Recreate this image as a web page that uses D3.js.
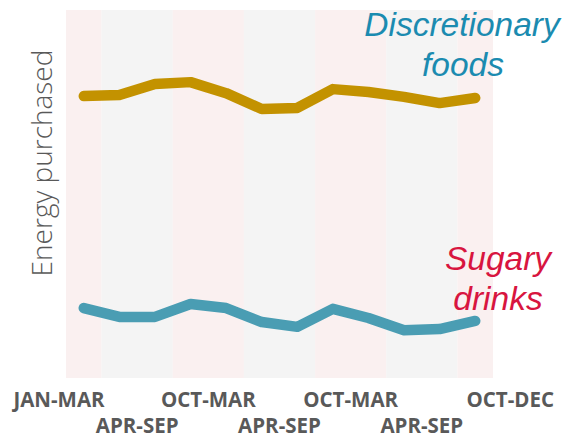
<!DOCTYPE html>
<html>
<head>
<meta charset="utf-8">
<script src="https://cdn.jsdelivr.net/npm/d3@7"></script>
<style>
  html, body { margin: 0; padding: 0; background: #fff; }
</style>
</head>
<body>
<div class="canvas"></div>
<script>
// quarters along the x axis (12 quarters, 3 years)
const quarters = ["Y1 Q1", "Y1 Q2", "Y1 Q3", "Y1 Q4",
                  "Y2 Q1", "Y2 Q2", "Y2 Q3", "Y2 Q4",
                  "Y3 Q1", "Y3 Q2", "Y3 Q3", "Y3 Q4"];

// energy purchased (relative units)
const discretionaryFoods = [76.6, 76.9, 79.9, 80.4, 77.4, 73.1, 73.4, 78.5, 77.7, 76.4, 74.7, 76.1];
const sugaryDrinks = [19.0, 16.6, 16.6, 20.1, 19.0, 15.2, 13.9, 18.8, 16.3, 13.0, 13.3, 15.5];

// periods shown as shaded bands + tick labels
const periodLabels = ["JAN-MAR", "APR-SEP", "OCT-MAR", "APR-SEP", "OCT-MAR", "APR-SEP", "OCT-DEC"];
const periodQuarters = [1, 2, 2, 2, 2, 2, 1];

const w = 568;
const h = 439;
const margin = { top: 10, right: 75, bottom: 61, left: 66 };
const graphWidth = w - margin.left - margin.right;
const graphHeight = h - margin.top - margin.bottom;

// build the periods with their first quarter index
let start = 0;
const periods = periodLabels.map((label, i) => {
  const p = { label, start, span: periodQuarters[i], i };
  start += periodQuarters[i];
  return p;
});

const svg = d3.select(".canvas")
  .append("svg")
  .attr("width", w)
  .attr("height", h);

const graph = svg.append("g")
  .attr("transform", `translate(${margin.left}, ${margin.top})`);

// x scale over quarters
const x = d3.scaleBand()
  .domain(quarters)
  .range([0, graphWidth])
  .padding(0);

// y scale (no numbers on the axis)
const y = d3.scaleLinear()
  .domain([0, 100])
  .range([graphHeight, 0]);

const qx = i => x(quarters[i]);

// shaded period bands
graph.selectAll("rect.band")
  .data(periods)
  .enter()
  .append("rect")
  .attr("class", "band")
  .attr("x", d => qx(d.start))
  .attr("width", d => x.step() * d.span)
  .attr("y", 0)
  .attr("height", graphHeight)
  .attr("fill", d => d.i % 2 === 0 ? "#faf0f0" : "#f4f4f4");

// lines
const line = d3.line()
  .x((d, i) => qx(i) + x.bandwidth() / 2)
  .y(d => y(d))
  .curve(d3.curveLinear);

graph.append("path")
  .datum(discretionaryFoods)
  .attr("fill", "none")
  .attr("stroke", "#c39200")
  .attr("stroke-width", 10.5)
  .attr("stroke-linecap", "round")
  .attr("stroke-linejoin", "round")
  .attr("d", line);

graph.append("path")
  .datum(sugaryDrinks)
  .attr("fill", "none")
  .attr("stroke", "#4a9db3")
  .attr("stroke-width", 10.5)
  .attr("stroke-linecap", "round")
  .attr("stroke-linejoin", "round")
  .attr("d", line);

// x tick labels, staggered in two rows
const xAxisGroup = graph.append("g")
  .attr("transform", `translate(0, ${graphHeight})`);

xAxisGroup.selectAll("text")
  .data(periods)
  .enter()
  .append("text")
  .attr("x", d => {
    if (d.i === 0) return qx(d.start) + x.step() * d.span + 3;
    if (d.i === periods.length - 1) return qx(d.start) + 9;
    return qx(d.start) + x.step() * d.span / 2;
  })
  .attr("y", d => d.i % 2 === 0 ? 29 : 55)
  .attr("text-anchor", d => d.i === 0 ? "end" : d.i === periods.length - 1 ? "start" : "middle")
  .attr("font-family", "'Open Sans', sans-serif")
  .attr("font-weight", 700)
  .attr("font-size", 20.5)
  .attr("fill", "#595959")
  .text(d => d.label);

// y axis label
svg.append("text")
  .attr("transform", `translate(52, 163) rotate(-90)`)
  .attr("text-anchor", "middle")
  .attr("font-family", "'Open Sans', sans-serif")
  .attr("font-weight", 300)
  .attr("font-size", 28)
  .attr("fill", "#595959")
  .text("Energy purchased");

// series labels
const seriesLabels = svg.append("g")
  .attr("font-family", "'Liberation Sans', Arial, sans-serif")
  .attr("font-style", "italic")
  .attr("font-size", 33.5)
  .attr("text-anchor", "middle");

seriesLabels.append("text")
  .attr("x", 462).attr("y", 36)
  .attr("fill", "#1b8bb0")
  .text("Discretionary");
seriesLabels.append("text")
  .attr("x", 463).attr("y", 76)
  .attr("fill", "#1b8bb0")
  .text("foods");
seriesLabels.append("text")
  .attr("x", 498).attr("y", 270)
  .attr("fill", "#d8153f")
  .text("Sugary");
seriesLabels.append("text")
  .attr("x", 498).attr("y", 310)
  .attr("fill", "#d8153f")
  .text("drinks");
</script>
</body>
</html>
